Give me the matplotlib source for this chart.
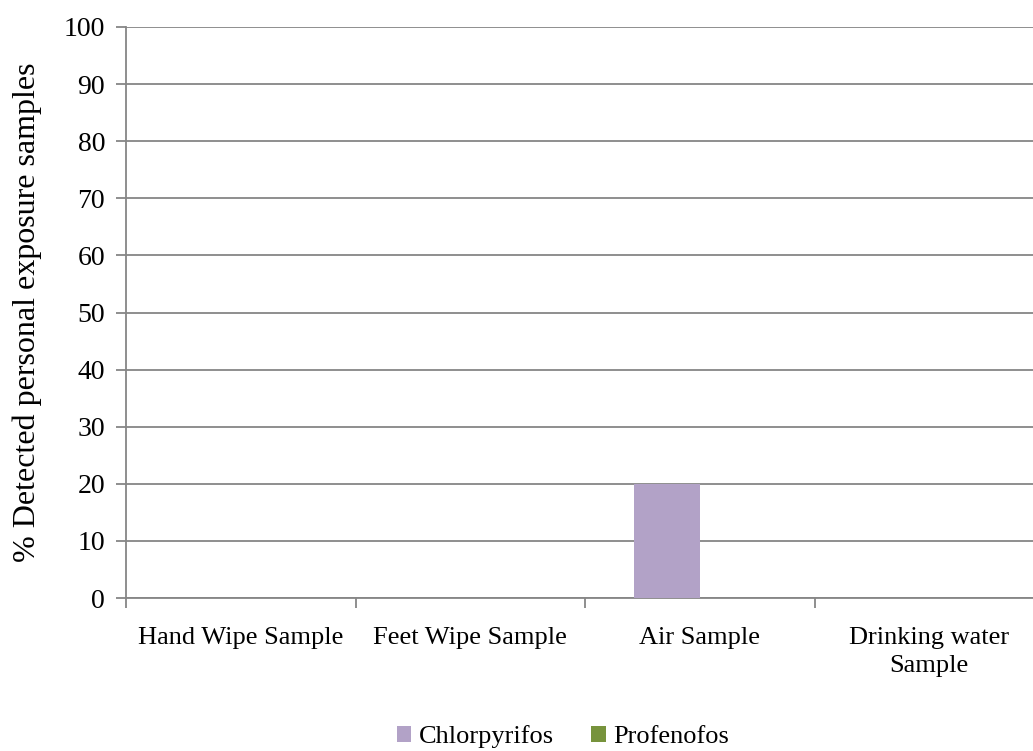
import matplotlib.pyplot as plt
import numpy as np

plt.rcParams["font.family"] = ["Liberation Serif", "DejaVu Serif"]

categories = ["Hand Wipe Sample", "Feet Wipe Sample", "Air Sample", "Drinking water\nSample"]
series_names = ["Chlorpyrifos", "Profenofos"]
chlorpyrifos = [0, 0, 20, 0]
profenofos = [0, 0, 0, 0]
colors = ["#b2a2c7", "#77933c"]
yticks = list(range(0, 101, 10))

fig = plt.figure(figsize=(10.33, 7.51), dpi=100)
ax = fig.add_axes([126 / 1033, 153 / 751, 918 / 1033, 571 / 751])

x = np.arange(len(categories))
# two bars per group, gap of 1.5 bar widths between groups
bw = 1 / 3.5
for i, (name, vals) in enumerate(zip(series_names, [chlorpyrifos, profenofos])):
  ax.bar(x + (i - 0.5) * bw, vals, width=bw, color=colors[i], label=name, zorder=3)

grid_c = "#868686"
ax.set_xlim(-0.5, len(categories) - 0.5)
ax.set_ylim(0, 100)
ax.set_yticks(yticks)
ax.yaxis.grid(True, color=grid_c, linewidth=1.3, zorder=0)
ax.set_xticks(np.arange(len(categories) + 1) - 0.5)
ax.set_xticklabels([])
ax.set_xticks(x, categories, minor=True)
for lbl in ax.get_xticklabels(minor=True):
  lbl.set_linespacing(1.35)
ax.tick_params(axis="x", which="minor", length=0, pad=21, labelsize=19)
ax.tick_params(axis="x", which="major", length=7, color=grid_c, width=1.3, direction="out")
ax.tick_params(axis="y", length=7, color=grid_c, width=1.3, labelsize=20, pad=8)
for s in ["top", "right"]:
  ax.spines[s].set_visible(False)
for s in ["left", "bottom"]:
  ax.spines[s].set_color(grid_c)
  ax.spines[s].set_linewidth(1.3)

ax.set_ylabel("% Detected personal exposure samples", fontsize=23, labelpad=16)

fig.legend(loc="center", bbox_to_anchor=(563 / 1033, 1 - 737 / 751), ncol=2, frameon=False,
           fontsize=19, handlelength=0.55, handleheight=0.55, handletextpad=0.3,
           columnspacing=1.4, borderpad=0)

fig.savefig("out.png", dpi=100)
